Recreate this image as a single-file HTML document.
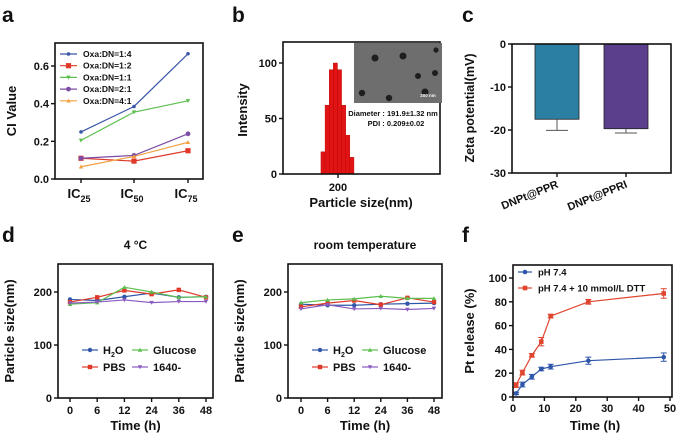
<!DOCTYPE html>
<html><head><meta charset="utf-8"><style>
html,body{margin:0;padding:0;background:#fff}
svg{display:block;font-family:"Liberation Sans",Arial,sans-serif;font-weight:bold}
</style></head><body>
<svg id="fig" width="700" height="436" viewBox="0 0 700 436"></svg>
<script>
// ---- Data ----
const aCats = ['25','50','75'];
const aNames = ['Oxa:DN=1:4','Oxa:DN=1:2','Oxa:DN=1:1','Oxa:DN=2:1','Oxa:DN=4:1'];
const a14 = [0.25,0.385,0.665];
const a12 = [0.11,0.095,0.15];
const a11 = [0.205,0.355,0.415];
const a21 = [0.11,0.125,0.24];
const a41 = [0.065,0.12,0.195];
const aTicks = [0,0.2,0.4,0.6];

const bBins = [169,176.5,184,191.5,199,206.5,214,221.5];
const bVals = [20,62,94,100,94,62,35,15];
const bTicks = [0,50,100];

const cCats = ['DNPt@PPR','DNPt@PPRI'];
const cVals = [-17.5,-19.7];
const cErr = [2.6,1.0];
const cTicks = [0,-10,-20,-30];

const tCats = ['0','6','12','24','36','48'];
const dH2O = [186,184,191,198,190,191];
const dPBS = [181,190,203,196,204,190];
const dGlu = [177,180,209,200,190,191];
const d1640 = [179,181,185,180,182,182];
const eH2O = [177,175,175,177,178,179];
const ePBS = [172,179,184,176,189,181];
const eGlu = [180,185,187,192,188,188];
const e1640 = [168,176,168,169,167,169];
const deTicks = [0,100,200];

const fX = [1,3,6,9,12,24,48];
const fBlue = [3,10.5,17,23.5,25.5,30.5,33.5];
const fBlueErr = [1,2,2,1.5,2,3,3.5];
const fRed = [10,20.5,35,46.5,68,80,87];
const fRedErr = [2,2,1.5,3.5,1.5,2,4];
const fTicksY = [0,20,40,60,80,100];
const fTicksX = [0,10,20,30,40,50];

const NS='http://www.w3.org/2000/svg';
const svg=document.getElementById('fig');
function mk(tag,attrs,parent,text){const e=document.createElementNS(NS,tag);for(const k in attrs)e.setAttribute(k,attrs[k]);if(text!==undefined)e.textContent=text;(parent||svg).appendChild(e);return e;}
function grp(name){const g=mk('g',{});


return g;}
function txt(g,x,y,s,size,name,anchor,extra){const t=mk('text',Object.assign({x:x,y:y,'font-size':size,'text-anchor':anchor||'middle',fill:'#111'},extra||{}),g,s);


return t;}
function box(g,x0,y0,x1,y1){const r=mk('rect',{x:x0,y:y0,width:x1-x0,height:y1-y0,fill:'none',stroke:'#111','stroke-width':1.6},g);

}
function yAxisTicks(g,x0,ticks,ys,fmt){ticks.forEach(v=>{const y=ys(v);mk('line',{x1:x0-4,x2:x0,y1:y,y2:y,stroke:'#111','stroke-width':1.4},g);txt(g,x0-6,y+4,fmt?fmt(v):String(v),11,'y-tick-label','end');});}
function marker(g,x,y,shape,color,size){let e;
if(shape==='sq')e=mk('rect',{x:x-size,y:y-size,width:2*size,height:2*size,fill:color},g);
else if(shape==='tri')e=mk('polygon',{points:`${x-size},${y-size*0.8} ${x+size},${y-size*0.8} ${x},${y+size}`,fill:color},g);
else if(shape==='tri-up')e=mk('polygon',{points:`${x-size},${y+size*0.8} ${x+size},${y+size*0.8} ${x},${y-size}`,fill:color},g);
else e=mk('circle',{cx:x,cy:y,r:size,fill:color},g);

}
function series(g,xs,vals,xs_,ys,color,shape,size,name){const pts=vals.map((v,i)=>`${xs_(xs[i],i)},${ys(v)}`).join(' ');
const l=mk('polyline',{points:pts,fill:'none',stroke:color,'stroke-width':1.2},g);


vals.forEach((v,i)=>marker(g,xs_(xs[i],i),ys(v),shape,color,size));}

// ---- Panel a ----
(function(){const g=grp('panel-a');
const X0=55,X1=203,Y0=43,Y1=179;const ys=v=>Y1-v/0.6*113;const xs=(c,i)=>[81,134,188][i];
txt(g,2,22,'a',21,'panel-label-a','start');
box(g,X0,Y0,X1,Y1);
yAxisTicks(g,X0,aTicks,ys,v=>v.toFixed(1));
aCats.forEach((c,i)=>{const x=xs(c,i);mk('line',{x1:x,x2:x,y1:Y1,y2:Y1+4,stroke:'#111','stroke-width':1.4},g);
const t=txt(g,x-2,Y1+19,'IC',13,'x-tick-label');mk('tspan',{'font-size':9,dy:4},t,c);});
txt(g,16,111,'CI Value',13,'y-axis-title','middle',{transform:'rotate(-90 16 111)'});
const cols=['#3a56a8','#e0392a','#5cbf4e','#7c4ca6','#f0a040'];const shp=['c','sq','tri','c','tri-up'];const sz=[1.8,2.6,2.2,2.4,2.2];
[a14,a12,a11,a21,a41].forEach((s,k)=>series(g,aCats,s,xs,ys,cols[k],shp[k],sz[k],'line-'+aNames[k]));
aNames.forEach((n,k)=>{const y=54+k*11.7;const l=mk('line',{x1:60,x2:77,y1:y,y2:y,stroke:cols[k],'stroke-width':1.2},g);marker(g,68.5,y,shp[k],cols[k],sz[k]);
txt(g,83,y+3,n,8.5,'legend-entry','start');});
})();

// ---- Panel b ----
(function(){const g=grp('panel-b');
const X0=283,X1=440,Y0=42,Y1=174;const ys=v=>Y1-v*1.11;const xs=v=>X0+(v-100)*0.55;
txt(g,232,22,'b',21,'panel-label-b','start');
bBins.forEach((b,i)=>{const r=mk('rect',{x:xs(b),y:ys(bVals[i]),width:7.5*0.55,height:bVals[i]*1.11,fill:'#e01414',stroke:'#b00','stroke-width':0.4},g);

});
box(g,X0,Y0,X1,Y1);
yAxisTicks(g,X0,bTicks,ys);
mk('line',{x1:xs(200),x2:xs(200),y1:Y1,y2:Y1+4,stroke:'#111','stroke-width':1.4},g);
txt(g,xs(200),Y1+17,'200',11,'x-tick-label');
txt(g,247,110,'Intensity',13,'y-axis-title','middle',{transform:'rotate(-90 247 110)'});
txt(g,X0+78,207,'Particle size(nm)',13,'x-axis-title');
const im=mk('rect',{x:354,y:43,width:88,height:60,fill:'#6e6e6e'},g);


[[375,58,3.5],[403,56,3.5],[436,50,2.6],[418,76,3],[435,73,3],[362,93,3.2],[389,98,3.2],[425,92,3.5]].forEach(p=>mk('circle',{cx:p[0],cy:p[1],r:p[2],fill:'#1e1e1e'},g));
txt(g,428,97,'200 nm',4.5,'scale-bar-label','middle',{fill:'#fff'});
txt(g,393,116,'Diameter : 191.9±1.32 nm',7.5,'diameter-annotation');
txt(g,396,126,'PDI : 0.209±0.02',7.5,'pdi-annotation');
})();

// ---- Panel c ----
(function(){const g=grp('panel-c');
const X0=512,X1=671,Y0=44,Y1=173;const ys=v=>Y0-v/30*(Y1-Y0);const cx=[557,626];const cols=['#2b7fa0','#5b3f8c'];
txt(g,462,22,'c',21,'panel-label-c','start');
cCats.forEach((c,i)=>{const r=mk('rect',{x:cx[i]-22,y:Y0,width:44,height:ys(cVals[i])-Y0,fill:cols[i],stroke:'#222','stroke-width':0.8},g);


const ye=ys(cVals[i]-cErr[i]);mk('line',{x1:cx[i],x2:cx[i],y1:ys(cVals[i]),y2:ye,stroke:'#555','stroke-width':1},g);mk('line',{x1:cx[i]-11,x2:cx[i]+11,y1:ye,y2:ye,stroke:'#555','stroke-width':1},g);
mk('line',{x1:cx[i],x2:cx[i],y1:Y1,y2:Y1+4,stroke:'#111','stroke-width':1.4},g);
txt(g,cx[i]+2,Y1+14,c,11,'x-tick-label','end',{transform:`rotate(-22 ${cx[i]+2} ${Y1+14})`});});
box(g,X0,Y0,X1,Y1);
yAxisTicks(g,X0,cTicks,ys);
txt(g,474,108,'Zeta potential(mV)',12.5,'y-axis-title','middle',{transform:'rotate(-90 474 108)'});
})();

// ---- Panels d, e ----
function stab(ox,name,letter,title,X0,X1,x0,x48,sets){const g=grp(name);
const Y0=264,Y1=398;const ys=v=>Y1-v*0.53;const xs=(c,i)=>x0+i*(x48-x0)/5;
txt(g,ox+2,242,letter,21,'panel-label-'+letter,'start');
txt(g,(X0+X1)/2,249,title,12,'chart-title');
const cols=['#2f56a8','#e0392a','#5cbf4e','#8a5cc0'];const shp=['c','sq','tri-up','tri'];const names=['H₂O','PBS','Glucose','1640-'];
sets.forEach((s,k)=>series(g,tCats,s,xs,ys,cols[k],shp[k],2.2,'line-'+names[k]));
box(g,X0,Y0,X1,Y1);
yAxisTicks(g,X0,deTicks,ys);
tCats.forEach((c,i)=>{const x=xs(c,i);mk('line',{x1:x,x2:x,y1:Y1,y2:Y1+4,stroke:'#111','stroke-width':1.4},g);txt(g,x,Y1+16,c,11,'x-tick-label');});
txt(g,ox+14,331,'Particle size(nm)',13,'y-axis-title','middle',{transform:`rotate(-90 ${ox+14} 331)`});
txt(g,(X0+X1)/2,430,'Time (h)',13,'x-axis-title');
const lx=[X0+24,X0+74];const ly=[350,367];
[0,2,1,3].forEach((k,j)=>{const x=lx[j%2],y=ly[Math.floor(j/2)];mk('line',{x1:x,x2:x+16,y1:y,y2:y,stroke:cols[k],'stroke-width':1.2},g);marker(g,x+8,y,shp[k],cols[k],2.2);
const t=txt(g,x+21,y+4,'',11,'legend-entry','start');
if(k===0){t.textContent='H';mk('tspan',{'font-size':7,dy:3},t,'2');mk('tspan',{dy:-3},t,'O');}else t.textContent=names[k];});
}
stab(0,'panel-d','d','4 °C',58,213,70,206,[dH2O,dPBS,dGlu,d1640]);
stab(230,'panel-e','e','room temperature',288,442,301,434,[eH2O,ePBS,eGlu,e1640]);

// ---- Panel f ----
(function(){const g=grp('panel-f');
const X0=513,X1=672,Y0=265,Y1=397;const ys=v=>Y1-v*1.19;const xs=v=>X0+v*3.14;
txt(g,462,242,'f',21,'panel-label-f','start');
[[fBlue,fBlueErr,'#2f56a8','c','line-ph74'],[fRed,fRedErr,'#e0452f','sq','line-ph74-dtt']].forEach(([s,e,col,sh,n])=>{
s.forEach((v,i)=>{const x=xs(fX[i]);mk('line',{x1:x,x2:x,y1:ys(v-e[i]),y2:ys(v+e[i]),stroke:col,'stroke-width':1},g);
[v-e[i],v+e[i]].forEach(w=>mk('line',{x1:x-3,x2:x+3,y1:ys(w),y2:ys(w),stroke:col,'stroke-width':1},g));});
series(g,fX,s,(x)=>xs(x),ys,col,sh,2.3,n);});
box(g,X0,Y0,X1,Y1);
yAxisTicks(g,X0,fTicksY,ys);
fTicksX.forEach(v=>{const x=xs(v);mk('line',{x1:x,x2:x,y1:Y1,y2:Y1+4,stroke:'#111','stroke-width':1.4},g);txt(g,x,Y1+15,String(v),11,'x-tick-label');});
txt(g,474,331,'Pt release (%)',13,'y-axis-title','middle',{transform:'rotate(-90 474 331)'});
txt(g,595,430,'Time (h)',13,'x-axis-title');
[['pH 7.4','#2f56a8','c',272],['pH 7.4 + 10 mmol/L DTT','#e0452f','sq',288]].forEach(([n,c,sh,y])=>{mk('line',{x1:518,x2:532,y1:y,y2:y,stroke:c,'stroke-width':1.2},g);marker(g,525,y,sh,c,2.3);txt(g,538,y+3.5,n,9.5,'legend-entry','start');});
})();
</script>
</body></html>
